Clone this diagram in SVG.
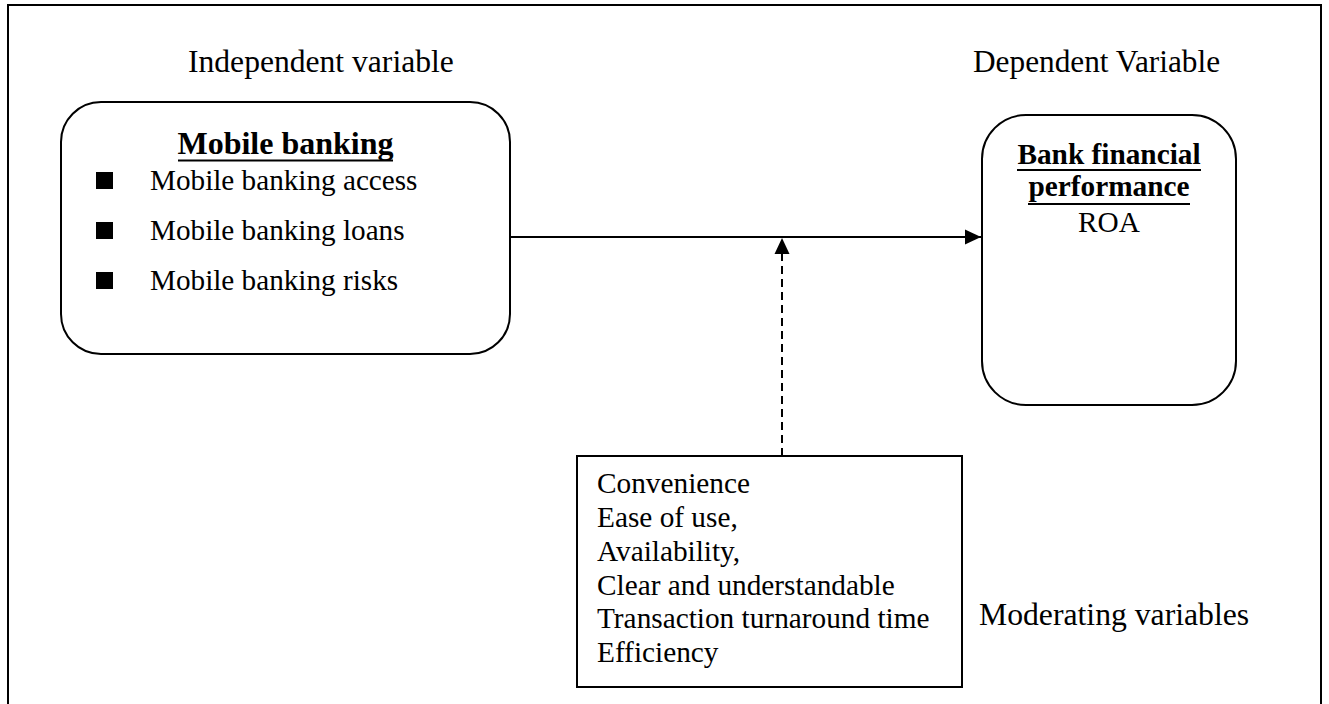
<svg xmlns="http://www.w3.org/2000/svg" width="1329" height="704" viewBox="0 0 1329 704">
<style>
.t{font-family:"Liberation Serif","Times New Roman",serif;fill:#000}
.b{font-weight:bold}
.box{fill:#fff;stroke:#000;stroke-width:2}
.ul{stroke:#000;stroke-width:2}
.conn{stroke:#000;stroke-width:2;fill:none}
</style>
<defs>
<marker id="ah" markerWidth="16" markerHeight="16" refX="16" refY="8" orient="auto" markerUnits="userSpaceOnUse" viewBox="0 0 16 16">
<path d="M0,0.5 L16,8 L0,15.5 Z" fill="#000"/>
</marker>
</defs>
<rect width="1329" height="704" fill="#fff"/>
<path d="M8,704 V5 H1321 V704" fill="none" stroke="#000" stroke-width="2"/>
<text class="t" x="188" y="72" font-size="31.6">Independent variable</text>
<text class="t" x="973" y="72" font-size="31.3">Dependent Variable</text>
<g id="mobile-banking">
<rect class="box" x="61" y="102" width="449" height="252" rx="40" ry="40"/>
<text class="t b" x="285.5" y="154" font-size="32" text-anchor="middle">Mobile banking</text>
<line class="ul" x1="178" y1="160.5" x2="393" y2="160.5"/>
<rect x="96" y="172" width="17" height="17" fill="#000"/>
<rect x="96" y="222" width="17" height="17" fill="#000"/>
<rect x="96" y="272" width="17" height="17" fill="#000"/>
<text class="t" x="150" y="190" font-size="29.2">Mobile banking access</text>
<text class="t" x="150" y="240" font-size="29.2">Mobile banking loans</text>
<text class="t" x="150" y="290" font-size="29.2">Mobile banking risks</text>
</g>
<g id="bank-performance">
<rect class="box" x="982" y="115" width="254" height="290" rx="44" ry="44"/>
<text class="t b" x="1109" y="164" font-size="29.3" text-anchor="middle">Bank financial</text>
<line class="ul" x1="1017" y1="170" x2="1201" y2="170"/>
<text class="t b" x="1109" y="196" font-size="29.3" text-anchor="middle">performance</text>
<line class="ul" x1="1028" y1="204" x2="1190" y2="204"/>
<text class="t" x="1109" y="232" font-size="29.3" text-anchor="middle">ROA</text>
</g>
<g id="moderating">
<rect class="box" x="577" y="456" width="385" height="231"/>
<text class="t" x="597" y="493" font-size="29.3">Convenience</text>
<text class="t" x="597" y="527" font-size="29.3">Ease of use,</text>
<text class="t" x="597" y="561" font-size="29.3">Availability,</text>
<text class="t" x="597" y="595" font-size="29.3">Clear and understandable</text>
<text class="t" x="597" y="628" font-size="29.3">Transaction turnaround time</text>
<text class="t" x="597" y="662" font-size="29.3">Efficiency</text>
</g>
<text class="t" x="979" y="625" font-size="31.7">Moderating variables</text>
<g id="connectors">
<line class="conn" x1="510" y1="237" x2="981" y2="237" marker-end="url(#ah)"/>
<line class="conn" x1="782" y1="456" x2="782" y2="238" stroke-dasharray="8 5" marker-end="url(#ah)"/>
</g>
</svg>
